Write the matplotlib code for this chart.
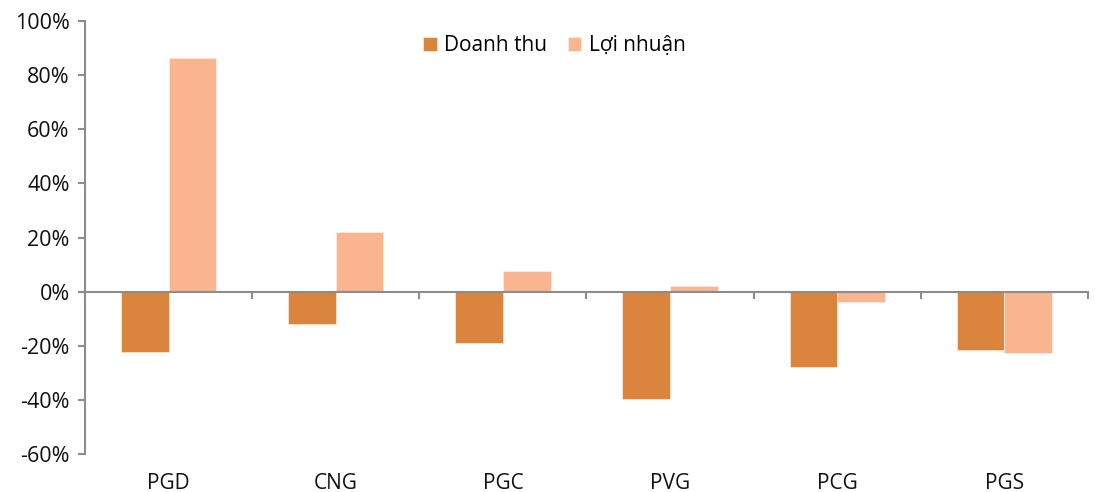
import numpy as np
import matplotlib
matplotlib.use('Agg')
import matplotlib.pyplot as plt
from matplotlib.ticker import PercentFormatter

plt.rcParams['font.family'] = ['Open Sans', 'DejaVu Sans']
plt.rc('axes', unicode_minus=False)

# dữ liệu
companies = ['PGD', 'CNG', 'PGC', 'PVG', 'PCG', 'PGS']
doanh_thu = [-22.2, -11.9, -18.9, -39.6, -27.8, -21.5]
loi_nhuan = [86.3, 22.2, 7.8, 1.9, -3.7, -22.6]

c_dt = '#DB843E'
c_ln = '#F8B590'
c_axis = '#8C8C8C'

fig = plt.figure(figsize=(10.95, 4.92), dpi=100)
ax = fig.add_axes([0.0776, 0.0772, 0.916, 0.8801])

x = np.arange(len(companies))
w = 0.285
ax.bar(x - w / 2, doanh_thu, w, color=c_dt, edgecolor='#FBE3D2', linewidth=0.6, label='Doanh thu')
ax.bar(x + w / 2, loi_nhuan, w, color=c_ln, edgecolor='#FDEBDF', linewidth=0.6, label='Lợi nhuận')

ax.set_xlim(-0.5, len(companies) - 0.5)
ax.set_ylim(-60, 100)
ax.set_yticks(np.arange(-60, 101, 20))
ax.yaxis.set_major_formatter(PercentFormatter(decimals=0))

for s in ['top', 'right']:
    ax.spines[s].set_visible(False)
ax.spines['left'].set_color(c_axis)
ax.spines['left'].set_linewidth(1.5)
ax.spines['bottom'].set_position(('data', 0))
ax.spines['bottom'].set_color(c_axis)
ax.spines['bottom'].set_linewidth(1.5)

ax.tick_params(axis='y', length=5, width=1.5, color=c_axis, labelsize=15.5, pad=6, labelcolor='#111111')
# vạch chia giữa các nhóm
ax.set_xticks(np.arange(-0.5, len(companies)), minor=False)
ax.set_xticklabels([])
ax.tick_params(axis='x', length=5, width=1.5, color=c_axis, direction='out')

# nhãn trục x ở đáy biểu đồ
for i, name in enumerate(companies):
    ax.text(i, -0.068, name, transform=ax.get_xaxis_transform(), ha='center', va='center',
            fontsize=15, color='#111111')

ax.legend(loc='center', bbox_to_anchor=(0.468, 0.943), ncol=2, frameon=False,
          fontsize=15, handlelength=0.65, handleheight=0.65, handletextpad=0.35,
          columnspacing=1.0)

fig.savefig('out.png', dpi=100)
